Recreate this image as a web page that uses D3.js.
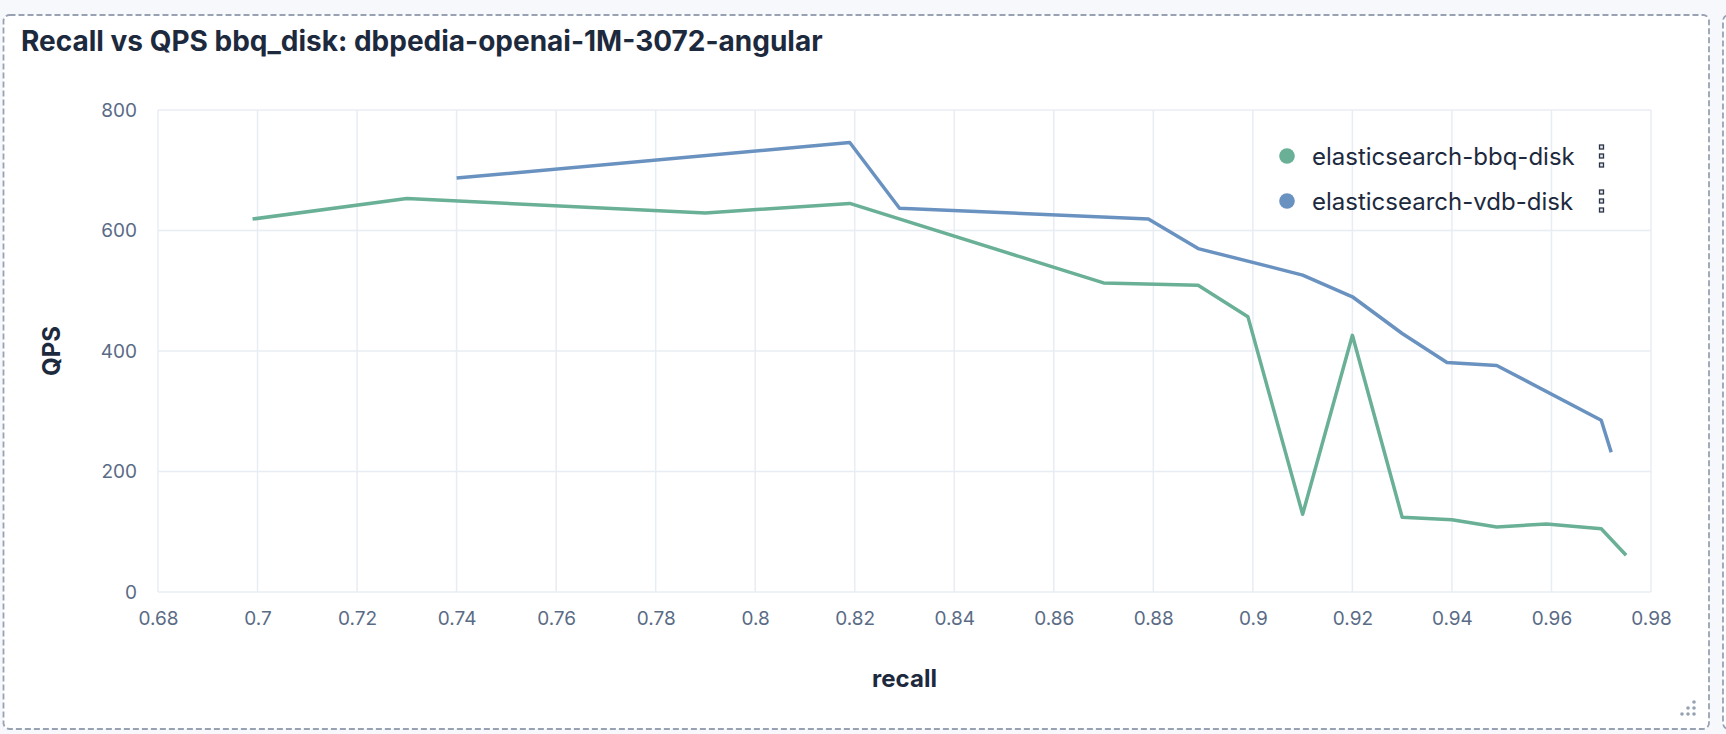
<!DOCTYPE html>
<html>
<head>
<meta charset="utf-8">
<script src="https://cdn.jsdelivr.net/npm/d3@7"></script>
<style>
    html, body { margin: 0; padding: 0; background: #f7f8fc; }
    svg { display: block; font-family: Inter, "Noto Sans", sans-serif; }
    .grid-line { stroke: #e8ecf3; stroke-width: 1.5; }
    .tick-label { fill: #5a6b86; font-size: 19px; }
    .axis-title { fill: #1d2a3e; font-size: 24px; font-weight: 700; }
    .legend-label { fill: #1d2a3e; font-size: 24px; }
</style>
</head>
<body>
<svg id="chart" width="1726" height="734"></svg>
<script>
// Chart data
const chartTitle = 'Recall vs QPS bbq_disk: dbpedia-openai-1M-3072-angular';
const seriesNames = ['elasticsearch-bbq-disk', 'elasticsearch-vdb-disk'];
const seriesColors = ['#69b096', '#6a92c0'];

const bbqRecall = [0.699, 0.73, 0.79, 0.819, 0.87, 0.889, 0.899, 0.91, 0.92, 0.93, 0.94, 0.949, 0.959, 0.97, 0.975];
const bbqQps = [619, 653, 629, 645, 513, 509, 457, 129, 426, 124, 120, 108, 113, 105, 61];

const vdbRecall = [0.74, 0.819, 0.829, 0.879, 0.889, 0.91, 0.92, 0.93, 0.939, 0.949, 0.97, 0.972];
const vdbQps = [687, 746, 637, 619, 570, 526, 490, 429, 381, 376, 285, 232];

const xTicks = [0.68, 0.7, 0.72, 0.74, 0.76, 0.78, 0.8, 0.82, 0.84, 0.86, 0.88, 0.9, 0.92, 0.94, 0.96, 0.98];
const yTicks = [0, 200, 400, 600, 800];

// Pair up x and y arrays for d3.line
const toPoints = (xs, ys) => xs.map((x, i) => ({ x: x, y: ys[i] }));

function drawPanel(svg) {
    // Dashed panel frame
    svg.append('rect')
        .attr('x', 3.5).attr('y', 15)
        .attr('width', 1705.5).attr('height', 714)
        .attr('rx', 6)
        .style('fill', '#ffffff')
        .style('stroke', '#98a2b3')
        .style('stroke-width', 1.8)
        .style('stroke-dasharray', '6 3');
    // Edge of the next panel peeking in on the right
    svg.append('rect')
        .attr('x', 1723).attr('y', 15)
        .attr('width', 200).attr('height', 714)
        .attr('rx', 6)
        .style('fill', '#ffffff')
        .style('stroke', '#98a2b3')
        .style('stroke-width', 1.8)
        .style('stroke-dasharray', '6 3');

    // Resize handle dots in the bottom right corner
    const handleDots = [[2, 0], [1, 1], [2, 1], [0, 2], [1, 2], [2, 2]];
    svg.selectAll('.handle-dot')
        .data(handleDots)
        .enter()
        .append('circle')
        .attr('class', 'handle-dot')
        .attr('cx', d => 1682 + d[0] * 6)
        .attr('cy', d => 702 + d[1] * 6)
        .attr('r', 1.8)
        .style('fill', '#98a2b3');

    svg.append('text')
        .attr('x', 21)
        .attr('y', 51)
        .style('fill', '#1d2a3e')
        .style('font-size', '28px')
        .style('font-weight', 700)
        .text(chartTitle);
}

function loadChart() {
    const svg = d3.select('#chart');
    drawPanel(svg);

    const margin = { top: 110, right: 75, bottom: 142, left: 158 };
    const width = 1726 - margin.left - margin.right;
    const height = 734 - margin.top - margin.bottom;

    const xScale = d3.scaleLinear().domain([0.68, 0.98]).range([0, width]);
    const yScale = d3.scaleLinear().domain([0, 800]).range([height, 0]);

    const g = svg.append('g')
        .attr('transform', `translate(${margin.left},${margin.top})`);

    // Vertical grid lines
    g.selectAll('.x-grid')
        .data(xTicks)
        .enter()
        .append('line')
        .attr('class', 'grid-line')
        .attr('x1', d => xScale(d))
        .attr('x2', d => xScale(d))
        .attr('y1', 0)
        .attr('y2', height);
    // Horizontal grid lines
    g.selectAll('.y-grid')
        .data(yTicks)
        .enter()
        .append('line')
        .attr('class', 'grid-line')
        .attr('x1', 0)
        .attr('x2', width)
        .attr('y1', d => yScale(d))
        .attr('y2', d => yScale(d));

    // x-axis at the bottom, ticks hidden
    const xAxis = g.append('g')
        .attr('transform', `translate(0,${height})`)
        .call(d3.axisBottom(xScale)
            .tickValues(xTicks)
            .tickFormat(d => String(+d.toFixed(2)))
            .tickSize(0)
            .tickPadding(20));
    // y-axis at the left
    const yAxis = g.append('g')
        .call(d3.axisLeft(yScale)
            .tickValues(yTicks)
            .tickSize(0)
            .tickPadding(21));

    [xAxis, yAxis].forEach(axis => {
        axis.select('.domain').remove();
        axis.selectAll('text')
            .attr('class', 'tick-label')
            .attr('fill', null)
            .style('font-family', 'Inter, "Noto Sans", sans-serif');
    });

    // Axis titles
    svg.append('text')
        .attr('class', 'axis-title')
        .attr('x', margin.left + width / 2)
        .attr('y', 687)
        .attr('text-anchor', 'middle')
        .text('recall');
    svg.append('text')
        .attr('class', 'axis-title')
        .attr('transform', `translate(60,${margin.top + height / 2}) rotate(-90)`)
        .attr('text-anchor', 'middle')
        .text('QPS');

    // Series lines
    const line = d3.line()
        .x(d => xScale(d.x))
        .y(d => yScale(d.y));
    const series = [toPoints(bbqRecall, bbqQps), toPoints(vdbRecall, vdbQps)];
    g.selectAll('.series-line')
        .data(series)
        .enter()
        .append('path')
        .attr('class', 'series-line')
        .attr('d', line)
        .style('fill', 'none')
        .style('stroke', (d, i) => seriesColors[i])
        .style('stroke-width', 3.5)
        .style('stroke-linejoin', 'round');

    // Legend
    const legend = svg.selectAll('.legend-item')
        .data(seriesNames)
        .enter()
        .append('g')
        .attr('class', 'legend-item')
        .attr('transform', (d, i) => `translate(1287,${156 + i * 45})`);
    legend.append('circle')
        .attr('r', 7.8)
        .style('fill', (d, i) => seriesColors[i]);
    legend.append('text')
        .attr('class', 'legend-label')
        .attr('x', 25)
        .attr('y', 8.5)
        .text(d => d);
    // Little drag handle made of three squares
    legend.selectAll('.drag-box')
        .data([-9, 0, 9])
        .enter()
        .append('rect')
        .attr('x', 312.5)
        .attr('y', d => d - 2)
        .attr('width', 4)
        .attr('height', 4)
        .style('fill', '#e4e7ec')
        .style('stroke', '#2b3445')
        .style('stroke-width', 1.3);
}

loadChart();
</script>
</body>
</html>
